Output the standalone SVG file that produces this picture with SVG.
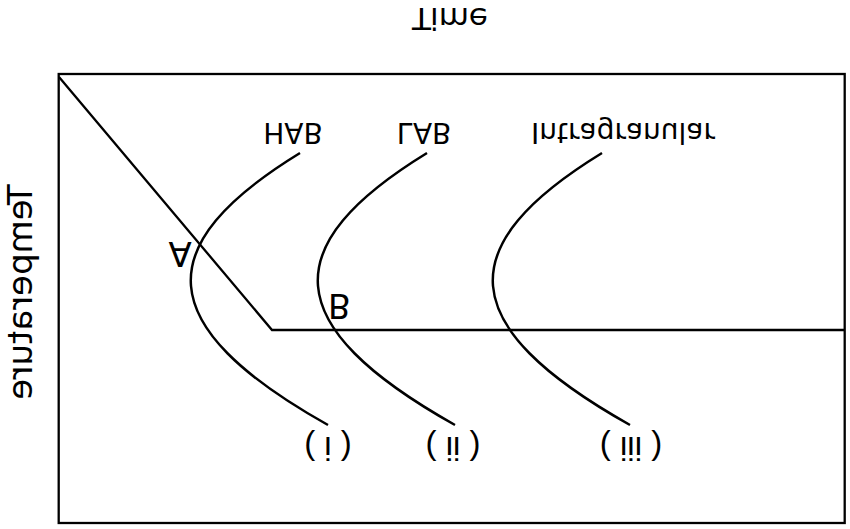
<svg xmlns="http://www.w3.org/2000/svg" width="850" height="529" viewBox="0 0 850 529">
<style>
.ln{fill:none;stroke:#000;stroke-width:2.3}
.cv{fill:none;stroke:#000;stroke-width:2.5}
text{font-family:"DejaVu Sans",sans-serif;fill:#000}
.lbl{font-size:28px;text-anchor:middle}
.num{font-family:"Liberation Sans",Arial,sans-serif;font-size:33px;text-anchor:middle}
</style>
<defs>
<path id="c" d="M300,153 C150,245 150,325 328,425"/>
</defs>
<g id="frame">
<rect class="ln" x="58.7" y="74" width="786" height="449"/>
</g>
<g id="axes-labels">
<text transform="translate(450,8) scale(1,-1)" font-size="31" text-anchor="middle">Time</text>
<text transform="matrix(0,1,1,0,32,292)" font-size="34" text-anchor="middle">Temperature</text>
</g>
<g id="connectors">
<polyline class="ln" points="59,77 272,330 844,330"/>
<use href="#c" class="cv"/>
<use href="#c" class="cv" transform="translate(127,0)"/>
<use href="#c" class="cv" transform="translate(302,0)"/>
</g>
<g id="curve-i">
<text class="lbl" transform="translate(293,123) scale(1,-1)">HAB</text>
<text class="num" transform="translate(328,437) scale(1,-1)">( i )</text>
</g>
<g id="curve-ii">
<text class="lbl" transform="translate(424,123) scale(1,-1)">LAB</text>
<text class="num" transform="translate(453,437) scale(1,-1)">( ii )</text>
</g>
<g id="curve-iii">
<text class="lbl" transform="translate(623,123) scale(1,-1)">Intragranular</text>
<text class="num" transform="translate(631,437) scale(1,-1)">( iii )</text>
</g>
<g id="point-A">
<text transform="translate(180,242) scale(1,-1)" font-size="34" text-anchor="middle">A</text>
</g>
<g id="point-B">
<text transform="translate(328,294) scale(1,-1)" font-size="33">B</text>
</g>
</svg>
